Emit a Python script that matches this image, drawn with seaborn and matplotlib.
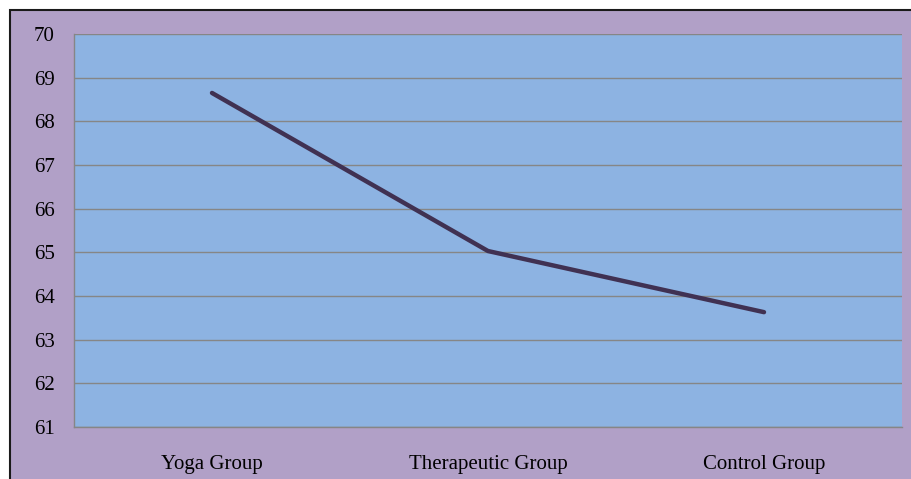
import numpy as np
import pandas as pd
import seaborn as sns
import matplotlib.pyplot as plt
from matplotlib.patches import Rectangle

groups = ["Yoga Group", "Therapeutic Group", "Control Group"]
scores = [68.65, 65.03, 63.63]
y_ticks = [61, 62, 63, 64, 65, 66, 67, 68, 69, 70]

df = pd.DataFrame({"group": groups, "score": scores})

sns.set_style("white")
plt.rcParams["font.family"] = ["Liberation Serif", "DejaVu Serif"]

W, H = 911, 479
fig = plt.figure(figsize=(W / 100, H / 100), dpi=100)
fig.patch.set_facecolor("white")
# purple chart area with dark frame on top/left
fig.patches.append(Rectangle((10 / W, -0.05), 1.1, (H - 10) / H + 0.05,
                             transform=fig.transFigure, facecolor="#B1A0C7",
                             edgecolor="#1a1a1a", linewidth=1.5, zorder=-10))

ax = fig.add_axes([74 / W, (H - 427) / H, (902 - 74) / W, (427 - 34) / H])
ax.set_facecolor("#8DB3E2")

pos = np.arange(len(groups))
sns.lineplot(x=pos, y=df["score"], ax=ax, color="#403152", linewidth=3.2,
             solid_capstyle="round", sort=False)

ax.set_xlim(-0.5, len(groups) - 0.5)
ax.set_ylim(61, 70)
ax.set_yticks(y_ticks)
ax.set_yticklabels([str(t) for t in y_ticks], fontsize=15, color="black")
ax.set_xticks(pos)
ax.set_xticklabels(groups, fontsize=15, color="black")
ax.set_xticks(np.arange(len(groups) + 1) - 0.5, minor=True)
ax.tick_params(axis="x", which="major", length=0, pad=20)
ax.tick_params(axis="x", which="minor", length=5, color="#868686", width=1)
ax.tick_params(axis="y", which="major", length=6, color="#868686", width=1, pad=8)
ax.yaxis.grid(True, color="#868686", linewidth=1)
ax.set_axisbelow(True)
ax.set_xlabel("")
ax.set_ylabel("")

for side in ["top", "right"]:
    ax.spines[side].set_visible(False)
for side in ["left", "bottom"]:
    ax.spines[side].set_color("#868686")
    ax.spines[side].set_linewidth(1)

fig.savefig("out.png", dpi=100)
